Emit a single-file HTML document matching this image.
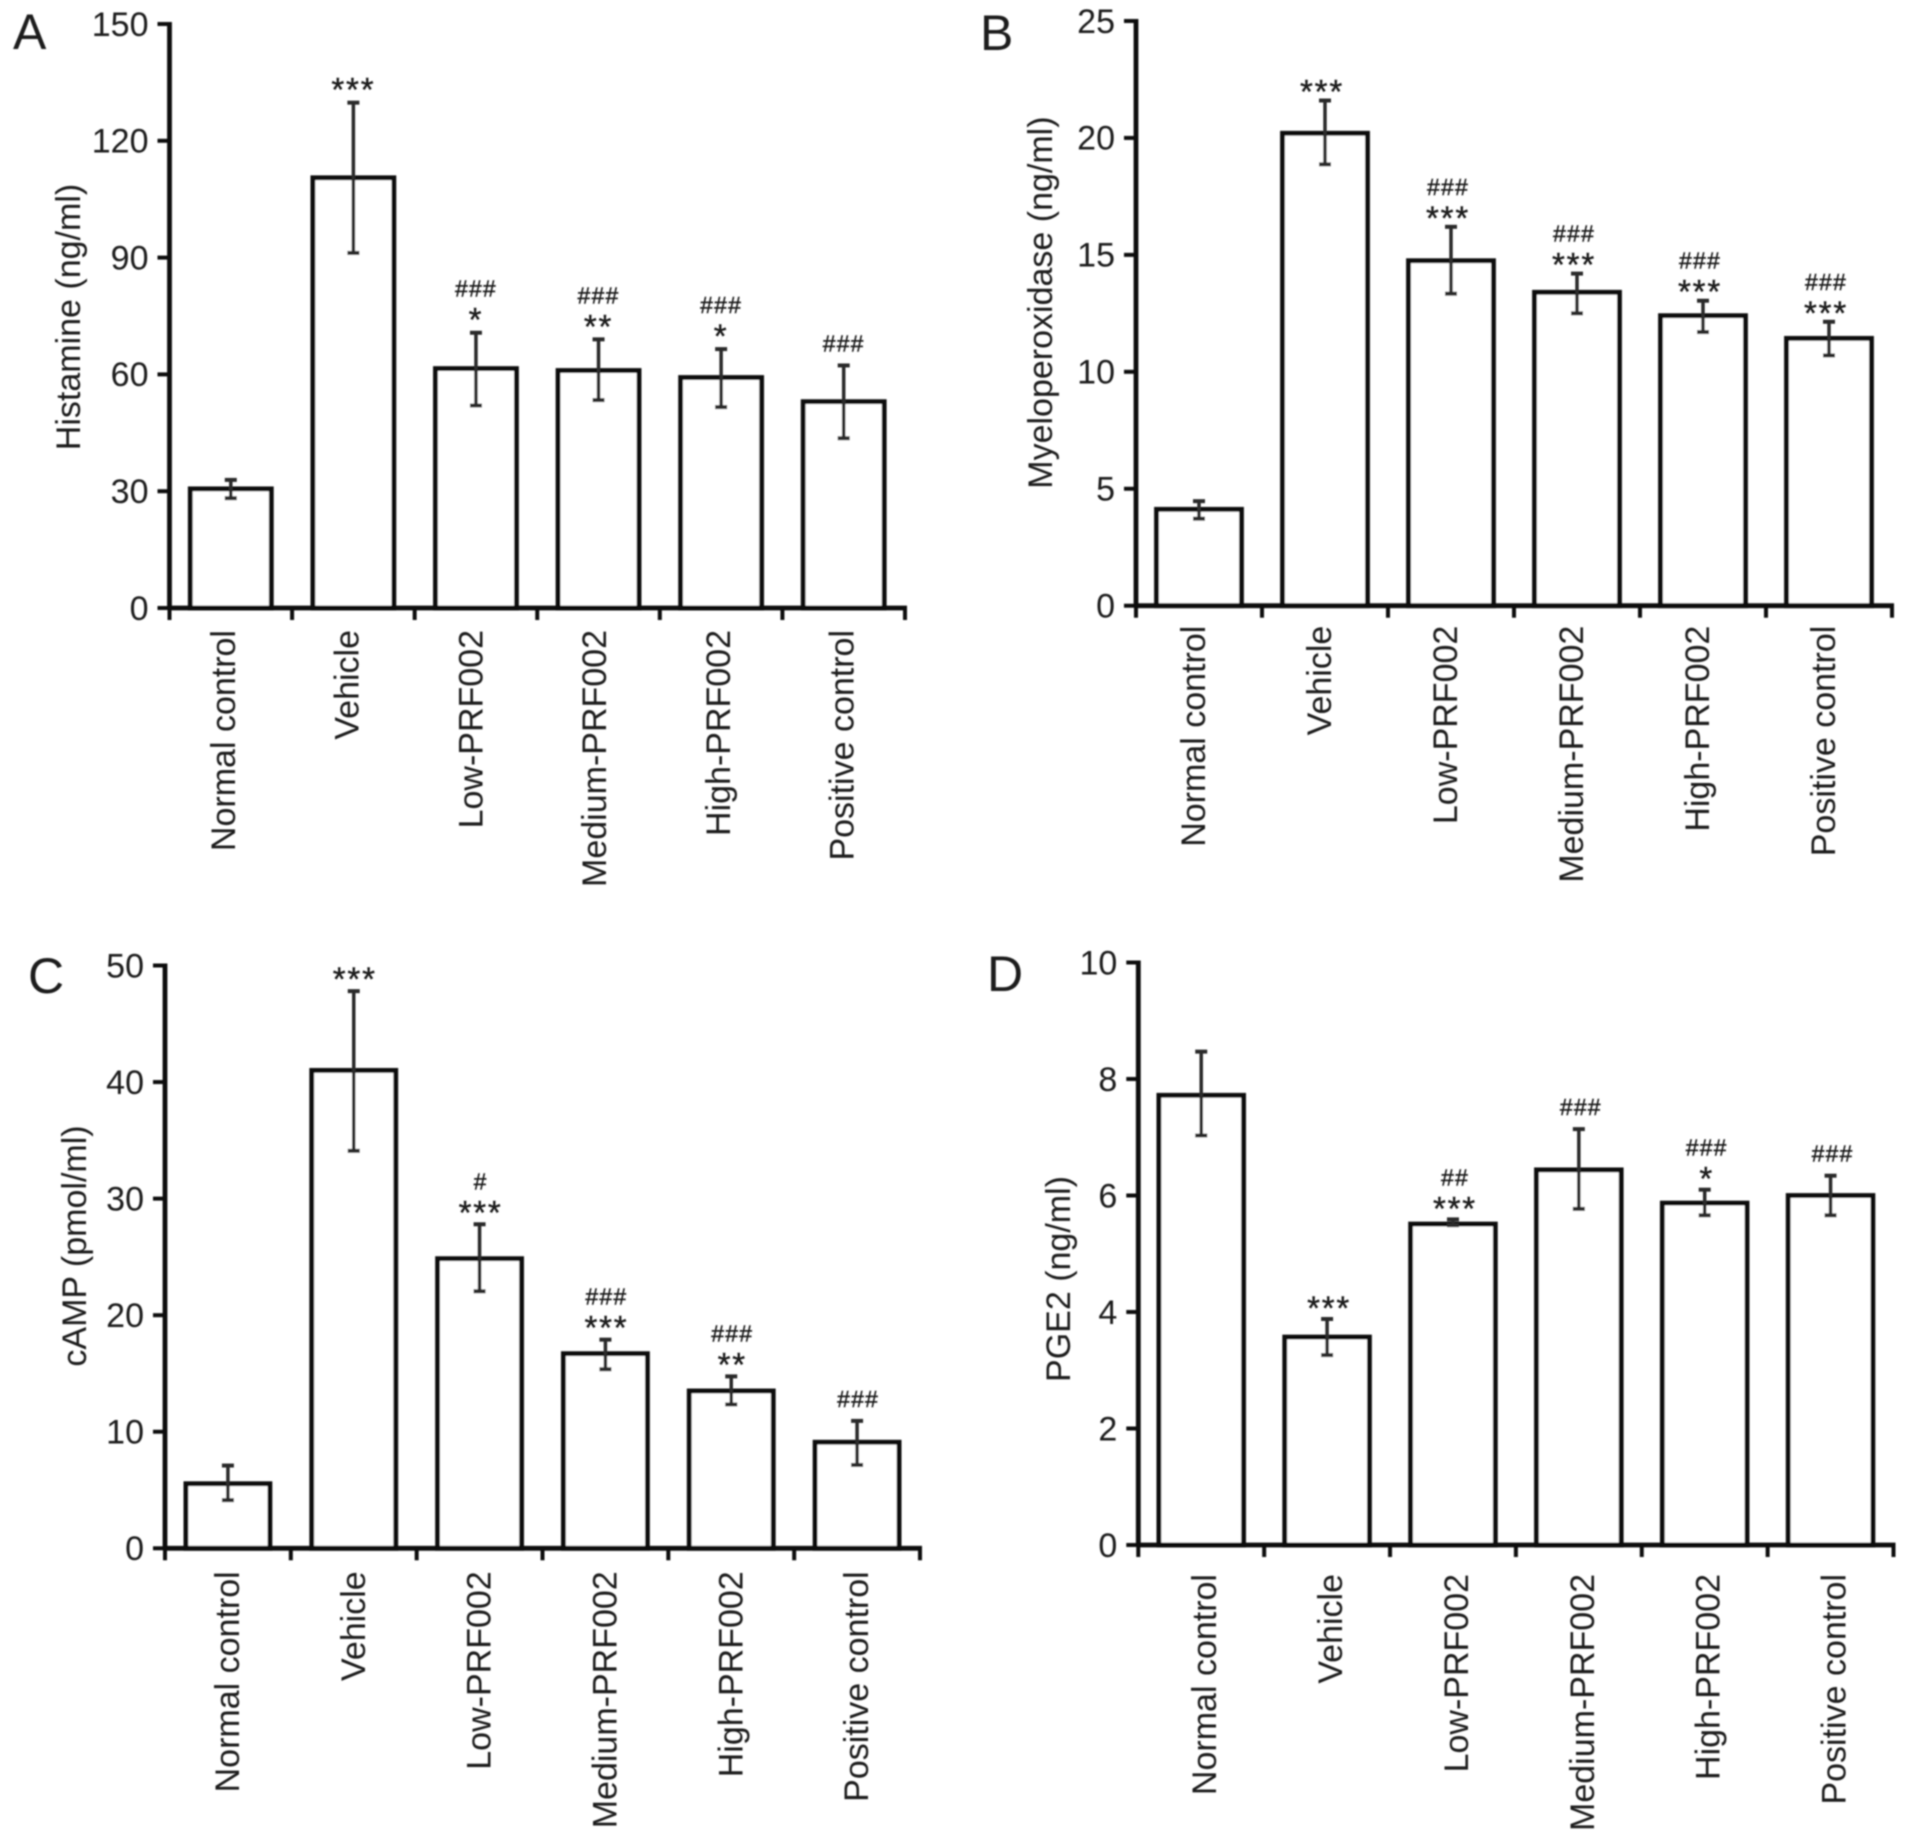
<!DOCTYPE html>
<html lang="en">
<head>
<meta charset="utf-8">
<title>Four-panel bar charts</title>
<style>
html,body{margin:0;padding:0;background:#fff;width:1913px;height:1840px;overflow:hidden}
svg{display:block}
text{font-family:"Liberation Sans",Arial,sans-serif;fill:#1a1a1a}
</style>
</head>
<body>
<svg id="figure" xmlns="http://www.w3.org/2000/svg" width="1913" height="1840" viewBox="0 0 1913 1840">
<defs><filter id="soft" x="-2%" y="-2%" width="104%" height="104%"><feGaussianBlur stdDeviation="0.7"/></filter></defs>
<rect width="1913" height="1840" fill="#ffffff"/>
<g id="root" filter="url(#soft)"></g>
</svg>
<script>
const categories = ["Normal control", "Vehicle", "Low-PRF002", "Medium-PRF002", "High-PRF002", "Positive control"];

const histamineTicks = [0, 30, 60, 90, 120, 150];
const histamineValues = [30.6, 110.5, 61.5, 61, 59.2, 53];
const histamineErrHigh = [32.9, 129.8, 70.7, 69, 66.5, 62.3];
const histamineErrLow = [28.2, 91.2, 52, 53.4, 51.6, 43.6];
const histamineStars = ["", "***", "*", "**", "*", ""];
const histamineHashes = ["", "", "###", "###", "###", "###"];

const mpoTicks = [0, 5, 10, 15, 20, 25];
const mpoValues = [4.12, 20.2, 14.75, 13.4, 12.4, 11.43];
const mpoErrHigh = [4.47, 21.6, 16.2, 14.2, 13.04, 12.14];
const mpoErrLow = [3.72, 18.87, 13.34, 12.5, 11.7, 10.7];
const mpoStars = ["", "***", "***", "***", "***", "***"];
const mpoHashes = ["", "", "###", "###", "###", "###"];

const campTicks = [0, 10, 20, 30, 40, 50];
const campValues = [5.54, 41, 24.85, 16.7, 13.5, 9.1];
const campErrHigh = [7.1, 47.8, 27.8, 17.9, 14.75, 10.93];
const campErrLow = [4.13, 34.1, 22.05, 15.36, 12.34, 7.15];
const campStars = ["", "***", "***", "***", "**", ""];
const campHashes = ["", "", "#", "###", "###", "###"];

const pgeTicks = [0, 2, 4, 6, 8, 10];
const pgeValues = [7.72, 3.57, 5.51, 6.44, 5.87, 6];
const pgeErrHigh = [8.47, 3.88, 5.59, 7.14, 6.1, 6.34];
const pgeErrLow = [7.03, 3.26, 5.49, 5.77, 5.66, 5.66];
const pgeStars = ["", "***", "***", "", "*", ""];
const pgeHashes = ["", "", "##", "###", "###", "###"];

const panels = [
  {id:"a", letter:"A", lx:13, ly:49, title:"Histamine (ng/ml)", tx:80, ty:317,
   ax:169.5, ar:905, top:24, bottom:608, barW:81, lblGap:22, lblOff:7, lblSpread:1.2, starGap:20, anX:0,
   ticks:histamineTicks, values:histamineValues, hi:histamineErrHigh, lo:histamineErrLow, stars:histamineStars, hashes:histamineHashes},
  {id:"b", letter:"B", lx:980, ly:50, title:"Myeloperoxidase (ng/ml)", tx:1052, ty:302.6,
   ax:1136, ar:1892, top:21, bottom:605.7, barW:85, lblGap:20, lblOff:6, lblSpread:0, starGap:16, anX:-3,
   ticks:mpoTicks, values:mpoValues, hi:mpoErrHigh, lo:mpoErrLow, stars:mpoStars, hashes:mpoHashes},
  {id:"c", letter:"C", lx:28, ly:993, title:"cAMP (pmol/ml)", tx:86, ty:1246,
   ax:165, ar:920, top:965.5, bottom:1548.3, barW:84, lblGap:23, lblOff:11, lblSpread:0, starGap:19, anX:1,
   ticks:campTicks, values:campValues, hi:campErrHigh, lo:campErrLow, stars:campStars, hashes:campHashes},
  {id:"d", letter:"D", lx:987, ly:991, title:"PGE2 (ng/ml)", tx:1070, ty:1279,
   ax:1138.3, ar:1893.5, top:962.5, bottom:1545, barW:84.7, lblGap:29, lblOff:15, lblSpread:0, starGap:18, anX:2,
   ticks:pgeTicks, values:pgeValues, hi:pgeErrHigh, lo:pgeErrLow, stars:pgeStars, hashes:pgeHashes}
];

const NS = "http://www.w3.org/2000/svg";
const INK = "#101010";
const ERR = "#2a2a2a";
const FONT = 34;

function makeLine(parent, x1, y1, x2, y2, color, width) {
  const l = document.createElementNS(NS, "line");
  l.setAttribute("x1", x1);
  l.setAttribute("y1", y1);
  l.setAttribute("x2", x2);
  l.setAttribute("y2", y2);
  l.setAttribute("stroke", color);
  l.setAttribute("stroke-width", width);
  parent.appendChild(l);
  return l;
}
function makeText(parent, str, x, y, size, anchor, rotate) {
  const t = document.createElementNS(NS, "text");
  t.textContent = str;
  t.setAttribute("font-size", size);
  t.setAttribute("text-anchor", anchor);
  if (rotate) {
    t.setAttribute("transform", "translate(" + x + " " + y + ") rotate(-90)");
  } else {
    t.setAttribute("x", x);
    t.setAttribute("y", y);
  }
  parent.appendChild(t);
  return t;
}
function drawPanel(p) {
  const root = document.getElementById("root");
  const g = document.createElementNS(NS, "g");
  
  
  root.appendChild(g);

  const yMax = p.ticks[p.ticks.length - 1];
  const y = function (v) { return p.bottom - (v / yMax) * (p.bottom - p.top); };
  const band = (p.ar - p.ax) / categories.length;
  const cx = function (i) { return p.ax + band * (i + 0.5); };

  const letter = makeText(g, p.letter, p.lx, p.ly, 50, "start", false);
  
  

  const title = makeText(g, p.title, p.tx, p.ty, FONT, "middle", true);
  
  

  categories.forEach(function (cat, i) {
    const bar = document.createElementNS(NS, "rect");
    bar.setAttribute("x", cx(i) - p.barW / 2);
    bar.setAttribute("y", y(p.values[i]));
    bar.setAttribute("width", p.barW);
    bar.setAttribute("height", p.bottom - y(p.values[i]));
    bar.setAttribute("fill", "#ffffff");
    bar.setAttribute("stroke", INK);
    bar.setAttribute("stroke-width", 4.8);
    
    
    g.appendChild(bar);

    const eb = document.createElementNS(NS, "g");
    
    
    g.appendChild(eb);
    makeLine(eb, cx(i), y(p.hi[i]), cx(i), y(p.lo[i]), ERR, 3.5);
    makeLine(eb, cx(i) - 6, y(p.hi[i]), cx(i) + 6, y(p.hi[i]), ERR, 4);
    makeLine(eb, cx(i) - 6, y(p.lo[i]), cx(i) + 6, y(p.lo[i]), ERR, 4);

    let starCenter = y(p.hi[i]);
    if (p.stars[i]) {
      starCenter = y(p.hi[i]) - p.starGap;
      const s = makeText(g, p.stars[i], cx(i) + p.anX, starCenter + 18.5, 33, "middle", false);
      s.setAttribute("letter-spacing", "1.8");
      s.setAttribute("stroke", "#1a1a1a");
      s.setAttribute("stroke-width", "0.4");
      
      
    }
    if (p.hashes[i]) {
      const hashCenter = p.stars[i] ? starCenter - 24 : starCenter - 22;
      const h = makeText(g, p.hashes[i], cx(i) + p.anX, hashCenter + 8, 23, "middle", false);
      h.setAttribute("letter-spacing", "1.2");
      h.setAttribute("stroke", "#1a1a1a");
      h.setAttribute("stroke-width", "0.4");
      
      
    }

    const lbl = makeText(g, cat, cx(i) + p.lblOff + p.lblSpread * (i - 2.5), p.bottom + p.lblGap, FONT, "end", true);
    
    
  });

  const yAxis = makeLine(g, p.ax, p.top - 2, p.ax, p.bottom + 2, INK, 4.8);
  
  

  const xAxis = makeLine(g, p.ax, p.bottom, p.ar + 2, p.bottom, INK, 4.8);
  
  

  p.ticks.forEach(function (tv) {
    const tk = makeLine(g, p.ax - 12, y(tv), p.ax, y(tv), INK, 4);
    
    
    const tl = makeText(g, String(tv), p.ax - 21, y(tv) + 11.8, FONT, "end", false);
    
    
  });

  for (let i = 0; i <= categories.length; i++) {
    const xt = makeLine(g, p.ax + band * i, p.bottom, p.ax + band * i, p.bottom + 12, INK, 4);
    
    
  }
}
panels.forEach(drawPanel);
</script>
</body>
</html>
